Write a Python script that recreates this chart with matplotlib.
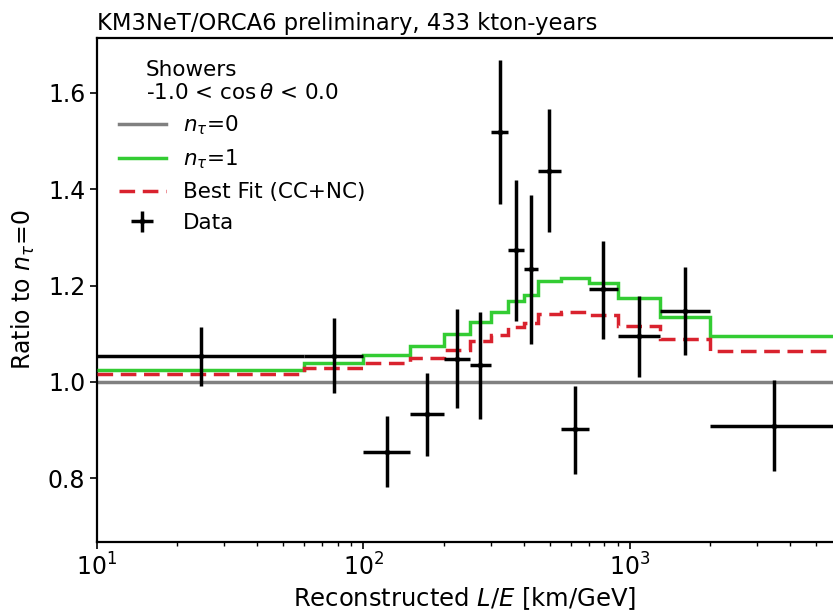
import numpy as np
import matplotlib
matplotlib.use("Agg")
import matplotlib.pyplot as plt

# bin edges in reconstructed L/E [km/GeV]
bin_edges = [10, 60, 100, 150, 200, 250, 300, 350, 400, 450, 550, 700, 900, 1300, 2000, 6000]

# data ratio, lower/upper errors
data_ratio = [1.053, 1.053, 0.855, 0.933, 1.048, 1.035, 1.519, 1.274, 1.234, 1.438, 0.902, 1.193, 1.096, 1.148, 0.909]
data_err_up = [0.060, 0.079, 0.073, 0.086, 0.104, 0.111, 0.150, 0.145, 0.153, 0.128, 0.090, 0.099, 0.083, 0.090, 0.095]
data_err_dn = [0.061, 0.076, 0.074, 0.088, 0.103, 0.113, 0.150, 0.147, 0.155, 0.127, 0.093, 0.105, 0.085, 0.092, 0.094]

# model step values per bin
ntau1 = [1.025, 1.040, 1.055, 1.075, 1.100, 1.124, 1.146, 1.168, 1.181, 1.210, 1.216, 1.206, 1.175, 1.134, 1.096]
best_fit = [1.016, 1.028, 1.039, 1.049, 1.066, 1.084, 1.098, 1.114, 1.122, 1.141, 1.145, 1.138, 1.115, 1.089, 1.064]

edges = np.array(bin_edges, dtype=float)
centers = np.sqrt(edges[:-1] * edges[1:])
xerr = [centers - edges[:-1], edges[1:] - centers]

fig = plt.figure(figsize=(8.33, 6.13), dpi=100)
ax = fig.add_axes([97/833, (613-541.7)/613, (833-97)/833, (541.7-38)/613])

ax.axhline(1.0, color="#808080", lw=2.5, label=r"$n_{\tau}$=0", zorder=2)
ax.stairs(ntau1, edges, color="#33cc33", lw=2.5,
          baseline=None, label=r"$n_{\tau}$=1", zorder=3)
ax.stairs(best_fit, edges, color="#d9222e", lw=2.5,
          ls=(0, (4.5, 2.2)), baseline=None, label="Best Fit (CC+NC)", zorder=3)
ax.errorbar(centers, data_ratio, yerr=[data_err_dn, data_err_up], xerr=xerr,
            fmt="o", ms=3, color="black", ecolor="black", elinewidth=2.5,
            capsize=0, lw=0, label="Data", zorder=4)

ax.set_xscale("log")
ax.set_xlim(10, 5780)
ax.set_ylim(0.668, 1.714)
ax.set_yticks([0.8, 1.0, 1.2, 1.4, 1.6])
ax.tick_params(axis="both", which="major", labelsize=17, length=5, width=1.2)
ax.tick_params(axis="x", which="minor", length=3, width=1.0)
for s in ax.spines.values():
    s.set_linewidth(1.6)
ax.spines["right"].set_visible(False)

ax.set_xlabel(r"Reconstructed $L/E$ [km/GeV]", fontsize=17.5, labelpad=3)
ax.set_ylabel(r"Ratio to $n_{\tau}$=0", fontsize=17, labelpad=8)
ax.set_title("KM3NeT/ORCA6 preliminary, 433 kton-years", loc="left", fontsize=16.3, pad=6)

leg = ax.legend(loc="upper left", title="Showers\n-1.0 < cos$\\,\\theta$ < 0.0",
                fontsize=15.5, title_fontsize=15.5, frameon=False, handlelength=2.2,
                borderaxespad=0.6)

fig.savefig("out.png", dpi=100)
